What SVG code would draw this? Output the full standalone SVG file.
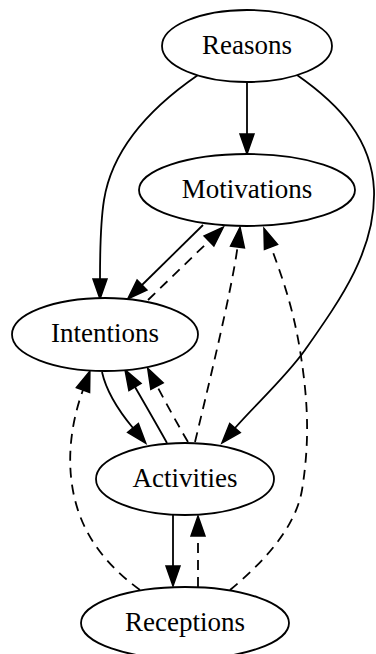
<svg xmlns="http://www.w3.org/2000/svg" width="376" height="654" viewBox="0 0 376 654">
<style>
.node ellipse{fill:#fff;stroke:#000;stroke-width:1.8}
.node text{font-family:"Liberation Serif","Times New Roman",serif;font-size:27px;text-anchor:middle;fill:#000}
.e{fill:none;stroke:#000;stroke-width:1.8}
.d{stroke-dasharray:10,7}
</style>
<defs>
<marker id="ah" markerUnits="userSpaceOnUse" markerWidth="22" markerHeight="16" refX="0" refY="7" orient="auto" overflow="visible">
<path d="M0,0 L20,7 L0,14 Z" fill="#000" stroke="#000" stroke-width="1.5"/>
</marker>
</defs>
<rect width="376" height="654" fill="#fff"/>
<g id="edges">
<path class="e" marker-end="url(#ah)" d="M247,82 L247,134"/>
<path class="e" marker-end="url(#ah)" d="M198,75 C150,108 112,150 104,200 C100,225 100,255 100,279"/>
<path class="e" marker-end="url(#ah)" d="M297,75 C340,105 372,140 374,190 C376,250 340,300 305,350 C285,378 255,405 235,428"/>
<path class="e" marker-end="url(#ah)" d="M203,225 L142,285"/>
<path class="e d" marker-end="url(#ah)" d="M148,300 L209,241"/>
<path class="e d" marker-end="url(#ah)" d="M195,442 C205,400 232,290 237.5,247"/>
<path class="e d" marker-end="url(#ah)" d="M230,590 C260,565 295,530 302,490 C310,440 308,400 300,350 C295,320 288,292 271,247"/>
<path class="e" marker-end="url(#ah)" d="M102,372 C106,390 118,410 133,428"/>
<path class="e" marker-end="url(#ah)" d="M167,443 C157,425 146,406 135,387"/>
<path class="e d" marker-end="url(#ah)" d="M188,442 C178,425 167,405 157,386"/>
<path class="e d" marker-end="url(#ah)" d="M140,590 C110,568 85,540 75,500 C65,460 72,420 83,390"/>
<path class="e" marker-end="url(#ah)" d="M173,515 L173,566"/>
<path class="e d" marker-end="url(#ah)" d="M198,587 L198,536"/>
</g>
<g id="Reasons" class="node"><ellipse cx="247" cy="46" rx="85" ry="36"/><text x="247" y="54">Reasons</text></g>
<g id="Motivations" class="node"><ellipse cx="247" cy="190" rx="108" ry="36"/><text x="247" y="198">Motivations</text></g>
<g id="Intentions" class="node"><ellipse cx="105" cy="334.5" rx="93" ry="36.5"/><text x="105" y="342">Intentions</text></g>
<g id="Activities" class="node"><ellipse cx="185" cy="479" rx="89" ry="36"/><text x="185" y="487">Activities</text></g>
<g id="Receptions" class="node"><ellipse cx="185" cy="623" rx="104" ry="36"/><text x="185" y="631">Receptions</text></g>
</svg>
